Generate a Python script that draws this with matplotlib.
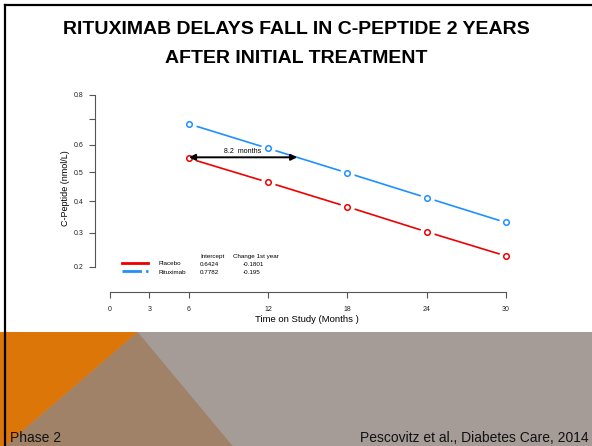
import numpy as np
import matplotlib
matplotlib.use('Agg')
import matplotlib.pyplot as plt
from matplotlib.lines import Line2D
from matplotlib.patches import Polygon

plt.rcParams['font.family'] = ['Liberation Sans', 'DejaVu Sans']

# data
months = [6, 12, 18, 24, 30]
placebo = [0.549, 0.464, 0.382, 0.303, 0.231]
rituximab = [0.680, 0.586, 0.497, 0.412, 0.332]
x_ticks = [0, 3, 6, 12, 18, 24, 30]
y_ticks = [0.2, 0.3, 0.4, 0.5, 0.6, 0.7, 0.8]
y_tick_labels = ['0.2', '0.3', '0.4', '0.5', '0.6', '', '0.8']
arrow_start = 6
delay_months = 8.2
arrow_level = 0.553
groups = ['Placebo', 'Rituximab']
intercepts = ['0.6424', '0.7782']
changes = ['-0.1801', '-0.195']

RED = '#EE0000'
BLUE = '#1E90FF'
W, H = 592, 446

def fx(p):
    return p / W

def fy(p):
    return 1 - p / H

fig = plt.figure(figsize=(W / 100, H / 100), dpi=100)
fig.patch.set_facecolor('white')

# ── 轴的像素标定 ──
xpx0, xpx30 = 109.8, 505.7
xs = (xpx30 - xpx0) / 30
ypx02, ypx08 = 266.7, 94.7
ks = (ypx08 - ypx02) / (np.log1p(0.8) - np.log1p(0.2))
left_px, bottom_px = 95.0, 292.3
xmin = (left_px - xpx0) / xs
xmax = 31
ymin = np.expm1(np.log1p(0.2) + (bottom_px - ypx02) / ks)
ymax = 0.85
top_px = ypx02 + (np.log1p(ymax) - np.log1p(0.2)) * ks
right_px = xpx0 + xmax * xs

ax = fig.add_axes([fx(left_px), fy(bottom_px),
                   (right_px - left_px) / W, (bottom_px - top_px) / H])
ax.set_yscale('function', functions=(np.log1p, np.expm1))
ax.set_xlim(xmin, xmax)
ax.set_ylim(ymin, ymax)
ax.patch.set_alpha(0)

for vals, col in [(placebo, RED), (rituximab, BLUE)]:
    ax.plot(months, vals, color=col, lw=1.2, zorder=2, clip_on=False)
    ax.plot(months, vals, 'o', ms=9.5, color='white', zorder=3, clip_on=False)
    ax.plot(months, vals, 'o', ms=4, mfc='white', mec=col, mew=1.1,
            zorder=4, clip_on=False)

ax.annotate('', xy=(arrow_start + delay_months, arrow_level),
            xytext=(arrow_start, arrow_level),
            arrowprops=dict(arrowstyle='<|-|>', color='black', lw=1.4,
                            mutation_scale=9, shrinkA=0, shrinkB=0), zorder=6)
ax.annotate(f'{delay_months}  months', (arrow_start + delay_months / 2, arrow_level),
            xytext=(0, 2), textcoords='offset points', ha='center', va='bottom',
            fontsize=5, zorder=6)

for s in ['top', 'right']:
    ax.spines[s].set_visible(False)
ax.spines['left'].set_bounds(0.2, 0.8)
ax.spines['bottom'].set_bounds(0, 30)
for s in ['left', 'bottom']:
    ax.spines[s].set_color('#555555')
    ax.spines[s].set_linewidth(0.8)
ax.set_xticks(x_ticks)
ax.set_xticklabels([str(t) for t in x_ticks])
ax.set_yticks(y_ticks)
ax.set_yticklabels(y_tick_labels)
ax.minorticks_off()
ax.tick_params(axis='both', colors='#555555', labelcolor='#222222',
               labelsize=5, length=4, width=0.8)
ax.tick_params(axis='x', pad=6)
ax.tick_params(axis='y', pad=4)
ax.set_xlabel('Time on Study (Months )', fontsize=6.8, labelpad=1)
ax.set_ylabel('C-Peptide (nmol/L)', fontsize=6.5, labelpad=3)

# 图例 + 截距表
handles = [Line2D([], [], color=RED, lw=2),
           Line2D([], [], color=BLUE, lw=2, ls=(0, (7, 1.5)))]
leg = fig.legend(handles, groups, loc='upper left',
                 bbox_to_anchor=(fx(121.5), fy(261)), frameon=False,
                 fontsize=4.5, handlelength=4.3, handletextpad=1.6,
                 labelspacing=0.45, borderpad=0, borderaxespad=0)
fig.text(fx(200), fy(256.7), 'Intercept', fontsize=4.5, va='center')
fig.text(fx(232.7), fy(256.7), 'Change 1st year', fontsize=4.5, va='center')
for i, (a, c) in enumerate(zip(intercepts, changes)):
    yy = 264.5 + i * 8.2
    fig.text(fx(200), fy(yy), a, fontsize=4.5, va='center')
    fig.text(fx(243), fy(yy), c, fontsize=4.5, va='center')

# ── 标题 ──
fig.text(0.5, fy(30), 'RITUXIMAB DELAYS FALL IN C-PEPTIDE 2 YEARS',
         fontweight='bold', fontsize=14, ha='center', va='center')
fig.text(0.5, fy(58.5), 'AFTER INITIAL TREATMENT',
         fontweight='bold', fontsize=14, ha='center', va='center')

# ── 底部色块 ──
band_top = 332
apex = 137.7
fig.patches.append(Polygon([(fx(0), fy(band_top)), (fx(W), fy(band_top)),
                            (fx(W), fy(H)), (fx(0), fy(H))],
                           closed=True, transform=fig.transFigure,
                           facecolor='#A59C97', edgecolor='none'))
fig.patches.append(Polygon([(fx(apex), fy(band_top)), (fx(5), fy(H)),
                            (fx(232.6), fy(H))],
                           closed=True, transform=fig.transFigure,
                           facecolor='#A08268', edgecolor='none'))
fig.patches.append(Polygon([(fx(0), fy(band_top)), (fx(apex), fy(band_top)),
                            (fx(5), fy(H)), (fx(0), fy(H))],
                           closed=True, transform=fig.transFigure,
                           facecolor='#DD7608', edgecolor='none'))

# 边框
fig.add_artist(Line2D([fx(5), fx(W)], [fy(5), fy(5)], color='black', lw=1.6))
fig.add_artist(Line2D([fx(5), fx(5)], [fy(5), fy(H)], color='black', lw=1.6))

fig.text(fx(10), fy(438), 'Phase 2', fontsize=10,
         ha='left', va='center', color='#111111')
fig.text(fx(589), fy(438), 'Pescovitz et al., Diabetes Care, 2014',
         fontsize=10, ha='right', va='center', color='#111111')

fig.savefig('out.png', dpi=100, facecolor='white')
